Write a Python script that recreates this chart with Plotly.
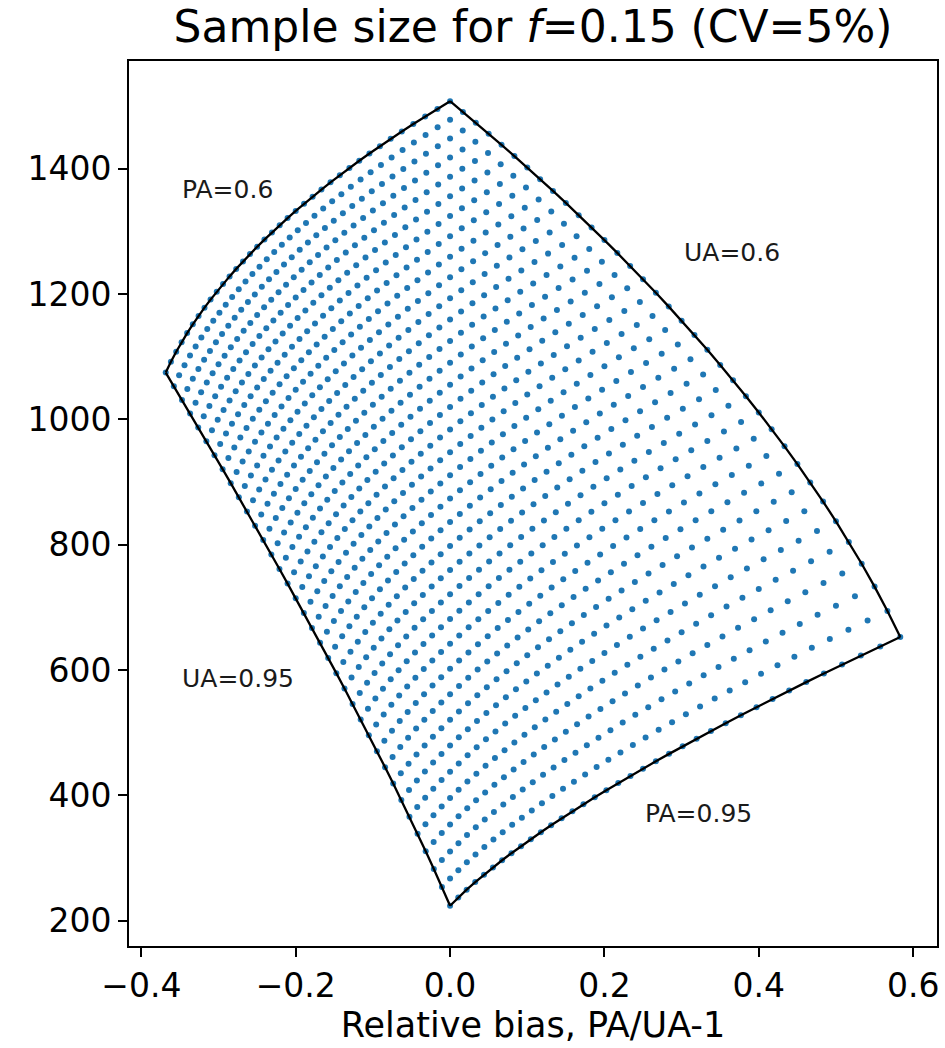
import numpy as np
import plotly.graph_objects as go

# Accuracy levels of the grid (producer's and user's accuracy)
PA_LEVELS = [0.60, 0.61, 0.62, 0.63, 0.64, 0.65, 0.66, 0.67, 0.68, 0.69,
             0.70, 0.71, 0.72, 0.73, 0.74, 0.75, 0.76, 0.77, 0.78, 0.79,
             0.80, 0.81, 0.82, 0.83, 0.84, 0.85, 0.86, 0.87, 0.88, 0.89,
             0.90, 0.91, 0.92, 0.93, 0.94, 0.95]
UA_LEVELS = [0.60, 0.61, 0.62, 0.63, 0.64, 0.65, 0.66, 0.67, 0.68, 0.69,
             0.70, 0.71, 0.72, 0.73, 0.74, 0.75, 0.76, 0.77, 0.78, 0.79,
             0.80, 0.81, 0.82, 0.83, 0.84, 0.85, 0.86, 0.87, 0.88, 0.89,
             0.90, 0.91, 0.92, 0.93, 0.94, 0.95]

F_TRUE = 0.15      # true class proportion f
CV_TARGET = 0.05   # target coefficient of variation

X_TICKS = [-0.4, -0.2, 0.0, 0.2, 0.4, 0.6]
Y_TICKS = [200, 400, 600, 800, 1000, 1200, 1400]

LABEL_TEXT = ["PA=0.6", "UA=0.6", "UA=0.95", "PA=0.95"]
LABEL_X = [-0.35, 0.30, -0.35, 0.25]
LABEL_Y = [1350, 1250, 570, 355]


def relative_bias(pa, ua):
    return np.asarray(pa) / np.asarray(ua) - 1.0


def sample_size(pa, ua, f=F_TRUE, cv=CV_TARGET):
    """Neyman-allocated stratified sample size for the class proportion."""
    pa = np.asarray(pa, dtype=float)
    ua = np.asarray(ua, dtype=float)
    m = f * pa / ua                       # mapped proportion
    s1 = np.sqrt(ua * (1 - ua))           # sd within mapped stratum
    p2 = f * (1 - pa) / (1 - m)           # omission share in the rest
    s2 = np.sqrt(p2 * (1 - p2))
    return ((m * s1 + (1 - m) * s2) / (cv * f)) ** 2


PA_GRID, UA_GRID = np.meshgrid(PA_LEVELS, UA_LEVELS)
pts_x = relative_bias(PA_GRID, UA_GRID).ravel()
pts_y = sample_size(PA_GRID, UA_GRID).ravel()

BLUE = "#1f77b4"
FONT = "DejaVu Sans"

fig = go.Figure()
fig.add_trace(go.Scatter(
    x=pts_x, y=pts_y, mode="markers",
    marker=dict(color=BLUE, size=6, line=dict(width=0)),
    showlegend=False, hoverinfo="skip",
))

ua_arr = np.array(UA_LEVELS)
pa_arr = np.array(PA_LEVELS)
edges = [
    (np.full_like(ua_arr, PA_LEVELS[0]), ua_arr),
    (np.full_like(ua_arr, PA_LEVELS[-1]), ua_arr),
    (pa_arr, np.full_like(pa_arr, UA_LEVELS[0])),
    (pa_arr, np.full_like(pa_arr, UA_LEVELS[-1])),
]
for pa_e, ua_e in edges:
    fig.add_trace(go.Scatter(
        x=relative_bias(pa_e, ua_e), y=sample_size(pa_e, ua_e),
        mode="lines", line=dict(color="black", width=2.3),
        showlegend=False, hoverinfo="skip",
    ))

for txt, lx, ly in zip(LABEL_TEXT, LABEL_X, LABEL_Y):
    fig.add_annotation(
        x=lx, y=ly, text=txt, showarrow=False,
        xanchor="left", yanchor="bottom", yshift=-6,
        font=dict(family=FONT, size=25, color="#1a1a1a"),
    )

# axis limits with 5% padding around the data
xpad = 0.05 * (pts_x.max() - pts_x.min())
ypad = 0.05 * (pts_y.max() - pts_y.min())
x_range = [pts_x.min() - xpad, pts_x.max() + xpad]
y_range = [pts_y.min() - ypad, pts_y.max() + ypad]

axis_common = dict(
    showline=True, linecolor="black", linewidth=2, mirror=True,
    ticks="outside", ticklen=9, tickwidth=2, tickcolor="black",
    showgrid=False, zeroline=False,
    tickfont=dict(family=FONT, size=33, color="black"),
)

fig.update_layout(
    width=945, height=1048,
    margin=dict(l=129, r=6, t=61, b=102),
    plot_bgcolor="white", paper_bgcolor="white",
    font=dict(family=FONT, color="black"),
    title=dict(
        text="Sample size for <i>f</i>=0.15 (CV=5%)",
        font=dict(family=FONT, size=44, color="black"),
        x=0.5, xref="paper", xanchor="center",
        y=1 - 27 / 1048, yref="container", yanchor="middle",
    ),
    xaxis=dict(
        range=x_range, tickvals=X_TICKS, tickformat=".1f",
        title=dict(text="Relative bias, PA/UA-1",
                   font=dict(family=FONT, size=35, color="black"),
                   standoff=8),
        **axis_common,
    ),
    yaxis=dict(
        range=y_range, tickvals=Y_TICKS,
        **axis_common,
    ),
)

fig.write_html("out.html")
